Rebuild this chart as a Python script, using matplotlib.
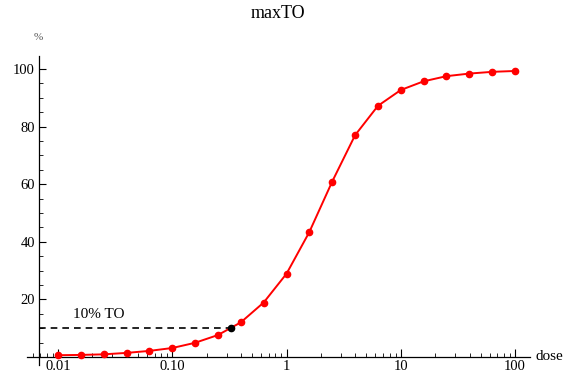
import numpy as np
import matplotlib
matplotlib.use("Agg")
import matplotlib.pyplot as plt
from matplotlib.ticker import LogLocator, FixedLocator, MultipleLocator

# dose-resposta
dose = [0.01, 0.0158, 0.0251, 0.0398, 0.0631, 0.1, 0.158, 0.251, 0.398, 0.631,
        1.0, 1.58, 2.51, 3.98, 6.31, 10.0, 15.8, 25.1, 39.8, 63.1, 100.0]
pct = [0.6, 0.7, 0.9, 1.4, 2.1, 3.1, 4.9, 7.6, 12.0, 18.9,
       28.9, 43.3, 60.9, 77.0, 87.2, 92.7, 95.7, 97.5, 98.4, 99.0, 99.3]
to10_dose = 0.329
to10_pct = 10.0
xticks = [0.01, 0.1, 1, 10, 100]
xtick_labels = ["0.01", "0.10", "1", "10", "100"]
yticks = [20, 40, 60, 80, 100]

plt.rcParams["font.family"] = ["Liberation Serif", "DejaVu Serif"]

W, H = 567, 374
fig = plt.figure(figsize=(W / 100, H / 100), dpi=100)
ax = fig.add_axes([27 / W, 9 / H, (530 - 27) / W, (365 - 56) / H])

x_axis_at = 0.00682
ax.set_xscale("log")
ax.set_xlim(0.00536, 135)
ax.set_ylim(-2.8, 104.5)

ax.plot(dose, pct, color="red", lw=1.4, marker="o", ms=4.5, zorder=3)
ax.plot([x_axis_at, to10_dose], [to10_pct, to10_pct], color="black",
        lw=1.2, ls=(0, (4, 3)), zorder=2)
ax.plot([to10_dose], [to10_pct], "o", color="black", ms=4.5, zorder=4)

for s in ("top", "right"):
    ax.spines[s].set_visible(False)
ax.spines["left"].set_position(("data", x_axis_at))
ax.spines["bottom"].set_position(("data", 0))
for s in ("left", "bottom"):
    ax.spines[s].set_linewidth(0.9)

ax.xaxis.set_major_locator(FixedLocator(xticks))
ax.set_xticklabels(xtick_labels)
ax.xaxis.set_minor_locator(LogLocator(base=10, subs=np.arange(2, 10)))
ax.xaxis.set_minor_formatter(plt.NullFormatter())
ax.yaxis.set_major_locator(FixedLocator(yticks))
ax.yaxis.set_minor_locator(MultipleLocator(5))

ax.tick_params(axis="x", which="major", direction="in", length=6, width=0.8,
               labelsize=10.5, pad=2)
ax.tick_params(axis="x", which="minor", direction="in", length=3, width=0.6)
ax.tick_params(axis="y", which="major", direction="in", length=5, width=0.8,
               labelsize=10.5, pad=3)
ax.tick_params(axis="y", which="minor", direction="in", length=3, width=0.6)

ax.text(0.0135, 14.6, "10% TO", fontsize=11, ha="left", va="center")

fig.text(278 / W, 1 - 14 / H, "maxTO", fontsize=13, ha="center", va="center")
fig.text(38 / W, 1 - 38 / H, "%", fontsize=8, color="#555555",
         ha="center", va="center")
fig.text(549 / W, 1 - 356 / H, "dose", fontsize=11, ha="center", va="center")

fig.savefig("out.png", dpi=100)
